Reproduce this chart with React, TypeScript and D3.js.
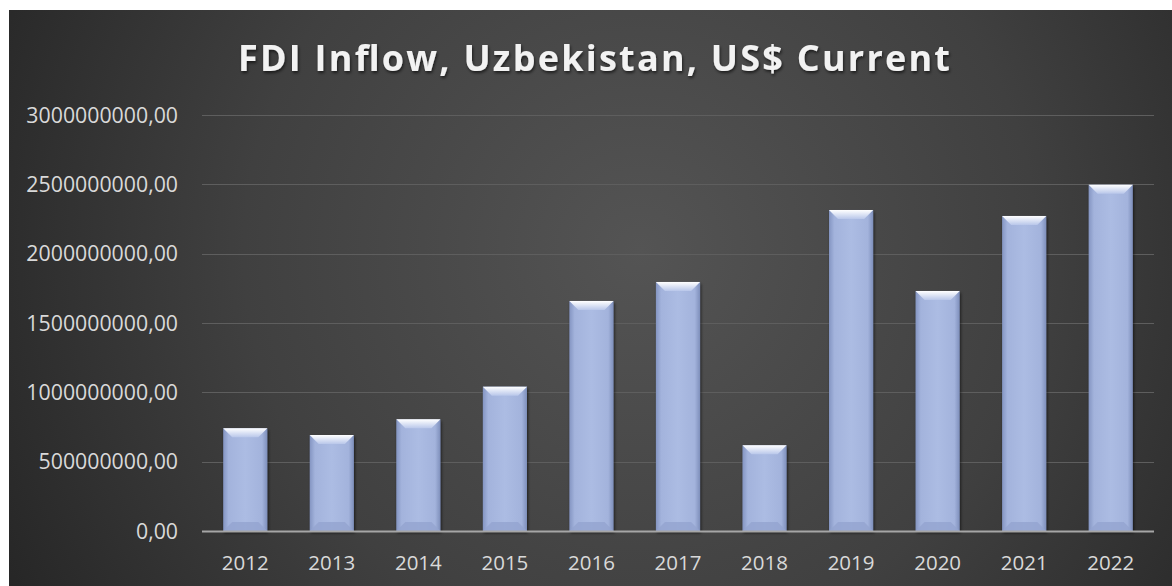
import { useEffect, useRef } from "react";
import * as d3 from "d3";

const years = ["2012", "2013", "2014", "2015", "2016", "2017", "2018", "2019", "2020", "2021", "2022"];
const fdiValues = [741e6, 692e6, 805e6, 1041e6, 1659e6, 1796e6, 618e6, 2315e6, 1731e6, 2272e6, 2497e6];
const yTicks = [0, 500e6, 1000e6, 1500e6, 2000e6, 2500e6, 3000e6];
const chartTitle = "FDI Inflow, Uzbekistan, US$ Current";

const W = 1172;
const H = 586;

const App: React.FC = () => {
    const svgRef = useRef<SVGSVGElement>(null);

    useEffect(() => {
        const svg = d3.select(svgRef.current);
        svg.selectAll("*").remove();

        const defs = svg.append("defs");

        // background
        const bg = defs
            .append("radialGradient")
            .attr("id", "bg")
            .attr("gradientUnits", "userSpaceOnUse")
            .attr("cx", 640)
            .attr("cy", 250)
            .attr("r", 720);
        bg.append("stop").attr("offset", "0").attr("stop-color", "#545454");
        bg.append("stop").attr("offset", "0.55").attr("stop-color", "#404040");
        bg.append("stop").attr("offset", "1").attr("stop-color", "#262626");

        const barGrad = defs.append("linearGradient").attr("id", "barBody").attr("x1", 0).attr("x2", 1);
        barGrad.append("stop").attr("offset", "0").attr("stop-color", "#8495c2");
        barGrad.append("stop").attr("offset", "0.12").attr("stop-color", "#a3b3dc");
        barGrad.append("stop").attr("offset", "0.5").attr("stop-color", "#acbce3");
        barGrad.append("stop").attr("offset", "0.88").attr("stop-color", "#a3b3dc");
        barGrad.append("stop").attr("offset", "1").attr("stop-color", "#7e8fbb");

        const topGrad = defs.append("linearGradient").attr("id", "barTop").attr("x1", 0).attr("x2", 0).attr("y1", 0).attr("y2", 1);
        topGrad.append("stop").attr("offset", "0").attr("stop-color", "#ffffff");
        topGrad.append("stop").attr("offset", "1").attr("stop-color", "#b9c7ea");

        const shadow = defs.append("filter").attr("id", "shadow").attr("x", "-20%").attr("y", "-20%").attr("width", "140%").attr("height", "140%");
        shadow.append("feDropShadow").attr("dx", 1).attr("dy", 2).attr("stdDeviation", 1.5).attr("flood-color", "#000").attr("flood-opacity", 0.6);

        svg.append("rect").attr("width", W).attr("height", H).attr("fill", "#ffffff");
        svg.append("rect").attr("x", 9).attr("y", 10).attr("width", W - 9).attr("height", H - 10).attr("fill", "url(#bg)");

        const x = d3.scaleBand().domain(years).range([202, 1154]).padding(0);
        const y = d3.scaleLinear().domain([0, 3000e6]).range([531, 115]);
        const barW = x.bandwidth() * 0.51;

        // gridlines
        svg.append("g")
            .selectAll("line")
            .data(yTicks.filter((t) => t > 0))
            .join("line")
            .attr("x1", 202)
            .attr("x2", 1154)
            .attr("y1", (d) => Math.round(y(d)) + 0.5)
            .attr("y2", (d) => Math.round(y(d)) + 0.5)
            .attr("stroke", "#5e5e5e")
            .attr("stroke-width", 1.2);

        // y labels
        svg.append("g")
            .selectAll("text")
            .data(yTicks)
            .join("text")
            .attr("x", 178)
            .attr("y", (d) => y(d) + 7.5)
            .attr("text-anchor", "end")
            .attr("font-family", "'Open Sans', sans-serif")
            .attr("font-size", 21.3)
            .attr("fill", "#d9d9d9")
            .text((d) => d3.format(".2f")(d).replace(".", ","));

        // bars
        const bars = svg
            .append("g")
            .selectAll("g")
            .data(years.map((yr, i) => ({ yr, v: fdiValues[i] })))
            .join("g")
            .attr("transform", (d) => `translate(${(x(d.yr) ?? 0) + (x.bandwidth() - barW) / 2},0)`);

        bars.append("rect")
            .attr("y", (d) => y(d.v))
            .attr("width", barW)
            .attr("height", (d) => y(0) - y(d.v))
            .attr("fill", "url(#barBody)")
            .attr("filter", "url(#shadow)");

        const bev = 9;
        bars.append("path")
            .attr("d", (d) => {
                const t = y(d.v);
                return `M0,${t} L${barW},${t} L${barW - bev},${t + bev} L${bev},${t + bev} Z`;
            })
            .attr("fill", "url(#barTop)");

        bars.append("path")
            .attr("d", (d) => {
                const b = y(0);
                return `M0,${b} L${barW},${b} L${barW - bev},${b - bev} L${bev},${b - bev} Z`;
            })
            .attr("fill", "#93a4cf")
            .attr("opacity", 0.8);

        // baseline
        svg.append("line")
            .attr("x1", 202)
            .attr("x2", 1154)
            .attr("y1", y(0) + 0.5)
            .attr("y2", y(0) + 0.5)
            .attr("stroke", "#a6a6a6")
            .attr("stroke-width", 2);

        // x labels
        svg.append("g")
            .selectAll("text")
            .data(years)
            .join("text")
            .attr("x", (d) => (x(d) ?? 0) + x.bandwidth() / 2)
            .attr("y", 570)
            .attr("text-anchor", "middle")
            .attr("font-family", "'Open Sans', sans-serif")
            .attr("font-size", 20.5)
            .attr("fill", "#d9d9d9")
            .text((d) => d);

        // title
        svg.append("text")
            .attr("x", 594)
            .attr("y", 71)
            .attr("text-anchor", "middle")
            .attr("font-family", "'Open Sans', sans-serif")
            .attr("font-weight", "bold")
            .attr("font-size", 36)
            .attr("textLength", 712)
            .attr("lengthAdjust", "spacing")
            .attr("fill", "#f2f2f2")
            .attr("filter", "url(#shadow)")
            .text(chartTitle);
    }, []);

    return (
        <div style={{ position: "absolute", left: 0, top: 0 }}>
            <svg ref={svgRef} width={W} height={H} style={{ display: "block" }} />
        </div>
    );
};

export default App;
